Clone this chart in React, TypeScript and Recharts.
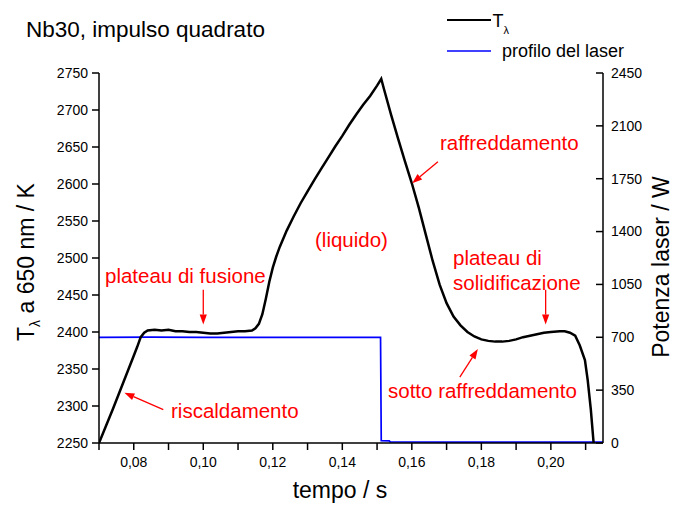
import React from 'react';
import { ComposedChart, Line, XAxis, YAxis, ReferenceLine } from 'recharts';

// Pyrometer temperature T_lambda (K) versus time (s)
const tempoT = [
  0.07, 0.072, 0.074, 0.076, 0.078, 0.08, 0.081, 0.082, 0.083, 0.084, 0.086, 0.088, 0.09, 0.092,
  0.094, 0.096, 0.098, 0.1, 0.102, 0.104, 0.106, 0.108, 0.11, 0.112, 0.114, 0.115, 0.116, 0.117,
  0.118, 0.119, 0.12, 0.121, 0.122, 0.124, 0.126, 0.128, 0.13, 0.132, 0.134, 0.136, 0.138, 0.14,
  0.142, 0.144, 0.146, 0.148, 0.15, 0.1512, 0.152, 0.154, 0.156, 0.158, 0.16, 0.162, 0.164, 0.166,
  0.168, 0.17, 0.172, 0.174, 0.176, 0.178, 0.18, 0.182, 0.184, 0.186, 0.188, 0.19, 0.192, 0.194,
  0.196, 0.198, 0.2, 0.2026, 0.204, 0.2055, 0.207, 0.2083, 0.2098, 0.2106, 0.2115, 0.2123,
];
const temperaturaK = [
  2250, 2273, 2296, 2320, 2344, 2368, 2380, 2393, 2399, 2402, 2403, 2402, 2403, 2401,
  2401, 2400, 2400, 2399, 2398, 2398, 2399, 2400, 2401, 2401, 2402, 2405, 2411, 2424,
  2445, 2468, 2487, 2502, 2515, 2537, 2556, 2574, 2590, 2606, 2621, 2636, 2651, 2665,
  2680, 2694, 2707, 2719, 2733, 2742, 2728, 2694, 2662, 2631, 2601, 2568, 2532, 2496,
  2464, 2439, 2421, 2409, 2400, 2394, 2390, 2388, 2387, 2387, 2388, 2390, 2393, 2395,
  2397, 2399, 2400, 2401, 2401, 2399, 2395, 2382, 2362, 2335, 2295, 2250,
];

// Laser power profile (W) versus time (s)
const tempoLaser = [0.07, 0.085, 0.1, 0.12, 0.14, 0.151, 0.1512, 0.1535, 0.1538, 0.17, 0.19, 0.215];
const potenzaW = [700, 701, 700, 699, 700, 700, 15, 14, 7, 6, 6, 6];

const xTicks = [0.07, 0.08, 0.09, 0.1, 0.11, 0.12, 0.13, 0.14, 0.15, 0.16, 0.17, 0.18, 0.19, 0.2, 0.21];
const leftTicks = [2250, 2300, 2350, 2400, 2450, 2500, 2550, 2600, 2650, 2700, 2750];
const rightTicks = [0, 350, 700, 1050, 1400, 1750, 2100, 2450];

// Red annotation arrows, in data units: [t0, T0, t1, T1] (tail -> head)
const frecce = [
  [0.1, 2457, 0.1, 2410],
  [0.0885, 2295, 0.0773, 2318],
  [0.1675, 2630, 0.1601, 2601],
  [0.1985, 2457, 0.1985, 2410],
  [0.1738, 2339, 0.179, 2377],
];

const tempData = tempoT.map((t, i) => ({ t, T: temperaturaK[i] }));
const laserData = tempoLaser.map((t, i) => ({ t, P: potenzaW[i] }));

const FONT = '"Liberation Sans", Arial, sans-serif';
const RED = '#ff0000';

const Arrow = (p: any) => {
  const { x1, y1, x2, y2 } = p;
  const a = Math.atan2(y2 - y1, x2 - x1);
  const L = 10;
  const W = 3.6;
  const bx = x2 - L * Math.cos(a);
  const by = y2 - L * Math.sin(a);
  const nx = -Math.sin(a) * W;
  const ny = Math.cos(a) * W;
  return (
    <g>
      <line x1={x1} y1={y1} x2={bx} y2={by} stroke={RED} strokeWidth={1.3} />
      <polygon points={`${x2},${y2} ${bx + nx},${by + ny} ${bx - nx},${by - ny}`} fill={RED} />
    </g>
  );
};

const RightTick = (props: any) => {
  const { x, y, payload } = props;
  return (
    <g>
      <line x1={x - 15} x2={x - 8} y1={y} y2={y} stroke="#000" strokeWidth={1.5} />
      <text x={x} y={y} dy="0.35em" textAnchor="start" fontSize={14} fontFamily={FONT} fill="#000">
        {payload.value}
      </text>
    </g>
  );
};

const fmtX = (v: number) => (Math.round(v * 100) % 2 === 0 ? v.toFixed(2).replace('.', ',') : '');

export default function App() {
  const redText = { fontSize: 20.5, fontFamily: FONT, fill: RED };
  return (
    <div style={{ position: 'absolute', left: 0, top: 0, width: 675, height: 505, background: '#fff' }}>
      <ComposedChart width={675} height={505} margin={{ top: 73, right: 12, bottom: 32, left: 39 }}>
        <XAxis
          dataKey="t"
          type="number"
          domain={[0.07, 0.215]}
          allowDataOverflow
          ticks={xTicks}
          interval={0}
          tickFormatter={fmtX}
          tickSize={7}
          tickMargin={7}
          height={30}
          axisLine={{ stroke: '#000', strokeWidth: 1.5 }}
          tickLine={{ stroke: '#000', strokeWidth: 1.5 }}
          tick={{ fontSize: 14, fontFamily: FONT, fill: '#000' }}
        />
        <YAxis
          yAxisId="left"
          domain={[2250, 2750]}
          ticks={leftTicks}
          interval={0}
          width={60}
          tickSize={7}
          tickMargin={4}
          axisLine={{ stroke: '#000', strokeWidth: 1.5 }}
          tickLine={{ stroke: '#000', strokeWidth: 1.5 }}
          tick={{ fontSize: 14, fontFamily: FONT, fill: '#000' }}
        />
        <YAxis
          yAxisId="right"
          orientation="right"
          domain={[0, 2450]}
          ticks={rightTicks}
          interval={0}
          width={60}
          tickSize={0}
          tickMargin={8}
          tickLine={false}
          axisLine={{ stroke: '#000', strokeWidth: 1.5 }}
          tick={<RightTick />}
        />
        <Line
          yAxisId="right"
          data={laserData}
          dataKey="P"
          type="linear"
          stroke="#0000ff"
          strokeWidth={1.7}
          dot={false}
          isAnimationActive={false}
        />
        <Line
          yAxisId="left"
          data={tempData}
          dataKey="T"
          type="linear"
          stroke="#000"
          strokeWidth={2.5}
          dot={false}
          isAnimationActive={false}
        />
        {frecce.map((f, i) => (
          <ReferenceLine
            key={i}
            yAxisId="left"
            segment={[{ x: f[0], y: f[1] }, { x: f[2], y: f[3] }]}
            stroke={RED}
            shape={Arrow}
          />
        ))}
      </ComposedChart>
      <svg width={675} height={505} style={{ position: 'absolute', left: 0, top: 0, pointerEvents: 'none' }}>
        <text x={26} y={37} fontSize={22.5} fontFamily={FONT} fill="#000">Nb30, impulso quadrato</text>

        <line x1={447} x2={491} y1={20} y2={20} stroke="#000" strokeWidth={2} />
        <text x={492.5} y={26.7} fontSize={18} fontFamily={FONT} fill="#000">
          T<tspan fontSize={11} dy={7}>λ</tspan>
        </text>
        <line x1={447} x2={491} y1={51} y2={51} stroke="#0000ff" strokeWidth={1.5} />
        <text x={502} y={57} fontSize={18} fontFamily={FONT} fill="#000">profilo del laser</text>

        <text x={340} y={498} textAnchor="middle" fontSize={23} fontFamily={FONT} fill="#000">tempo / s</text>
        <text transform="translate(34, 262) rotate(-90)" textAnchor="middle" fontSize={23} fontFamily={FONT} fill="#000">
          T<tspan fontSize={14} dy={6}>λ</tspan><tspan dy={-6}> a 650 nm / K</tspan>
        </text>
        <text transform="translate(669, 267) rotate(-90)" textAnchor="middle" fontSize={23} fontFamily={FONT} fill="#000">
          Potenza laser / W
        </text>

        <text x={105} y={283} {...redText}>plateau di fusione</text>
        <text x={171} y={418} {...redText}>riscaldamento</text>
        <text x={315} y={247} {...redText}>(liquido)</text>
        <text x={440} y={150} {...redText}>raffreddamento</text>
        <text x={453} y={265} {...redText}>plateau di</text>
        <text x={453} y={290} {...redText}>solidificazione</text>
        <text x={388} y={398} {...redText}>sotto raffreddamento</text>
      </svg>
    </div>
  );
}
